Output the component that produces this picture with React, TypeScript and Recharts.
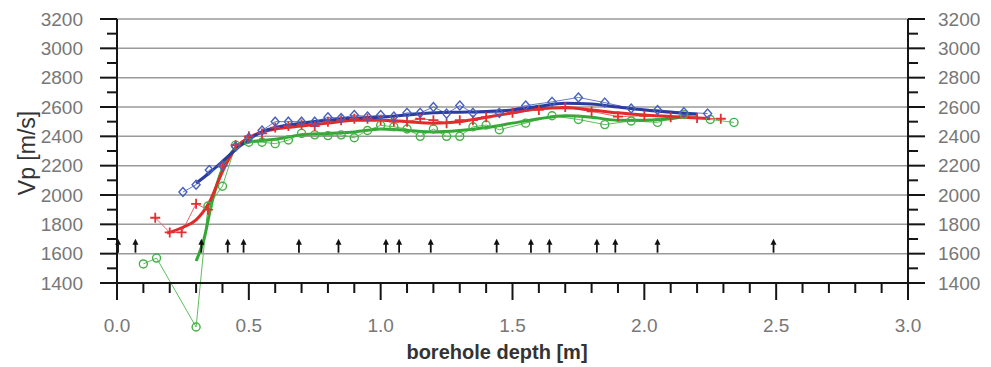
import React from 'react'
import { ComposedChart, Line, Scatter, XAxis, YAxis, CartesianGrid } from 'recharts'

// depth [m], Vp [m/s]
const BLUE_POINTS = [
  [0.25, 2020], [0.3, 2070], [0.35, 2170], [0.4, 2200], [0.45, 2330], [0.5, 2390],
  [0.55, 2440], [0.6, 2500], [0.65, 2500], [0.7, 2500], [0.75, 2500], [0.8, 2530],
  [0.85, 2525], [0.9, 2545], [0.95, 2535], [1.0, 2545], [1.05, 2535], [1.1, 2560],
  [1.15, 2560], [1.2, 2600], [1.25, 2555], [1.3, 2610], [1.35, 2560], [1.45, 2560],
  [1.55, 2610], [1.65, 2635], [1.75, 2665], [1.85, 2630], [1.95, 2590], [2.05, 2580],
  [2.15, 2565], [2.24, 2555],
]
const RED_POINTS = [
  [0.145, 1845], [0.2, 1745], [0.245, 1745], [0.3, 1940], [0.345, 1900], [0.4, 2200],
  [0.45, 2340], [0.5, 2400], [0.55, 2420], [0.6, 2460], [0.65, 2470], [0.7, 2480],
  [0.75, 2470], [0.8, 2500], [0.85, 2510], [0.9, 2520], [0.95, 2520], [1.0, 2510],
  [1.05, 2500], [1.1, 2500], [1.15, 2520], [1.2, 2510], [1.25, 2490], [1.3, 2510],
  [1.35, 2510], [1.4, 2530], [1.5, 2560], [1.6, 2580], [1.7, 2600], [1.8, 2570],
  [1.9, 2535], [2.0, 2540], [2.1, 2530], [2.2, 2525], [2.29, 2520],
]
const GREEN_POINTS = [
  [0.1, 1530], [0.15, 1570], [0.3, 1100], [0.345, 1925], [0.4, 2060], [0.45, 2340],
  [0.5, 2360], [0.55, 2360], [0.6, 2350], [0.65, 2375], [0.7, 2420], [0.75, 2410],
  [0.8, 2405], [0.85, 2410], [0.9, 2390], [0.95, 2440], [1.0, 2475], [1.05, 2465],
  [1.1, 2450], [1.15, 2400], [1.2, 2450], [1.25, 2400], [1.3, 2400], [1.35, 2465],
  [1.4, 2477], [1.45, 2445], [1.55, 2490], [1.65, 2540], [1.75, 2515], [1.85, 2480],
  [1.95, 2505], [2.05, 2495], [2.15, 2550], [2.25, 2515], [2.34, 2495],
]

// smoothed trend curves
const BLUE_TREND = [
  [0.3, 2080], [0.35, 2150], [0.4, 2230], [0.45, 2310], [0.5, 2380], [0.55, 2430],
  [0.6, 2460], [0.7, 2490], [0.8, 2510], [0.9, 2525], [1.0, 2530], [1.1, 2545],
  [1.2, 2560], [1.3, 2565], [1.4, 2570], [1.5, 2580], [1.6, 2605], [1.7, 2625],
  [1.8, 2620], [1.9, 2600], [2.0, 2580], [2.1, 2565], [2.2, 2550],
]
const RED_TREND = [
  [0.19, 1740], [0.25, 1780], [0.3, 1830], [0.35, 1950], [0.4, 2160], [0.45, 2320],
  [0.5, 2390], [0.55, 2430], [0.6, 2450], [0.7, 2470], [0.8, 2490], [0.9, 2510],
  [1.0, 2510], [1.1, 2500], [1.2, 2490], [1.3, 2500], [1.4, 2530], [1.5, 2560],
  [1.6, 2590], [1.7, 2595], [1.8, 2580], [1.9, 2560], [2.0, 2545], [2.1, 2535],
  [2.2, 2525], [2.25, 2520],
]
const GREEN_TREND = [
  [0.3, 1550], [0.33, 1700], [0.36, 1950], [0.4, 2180], [0.45, 2320], [0.5, 2360],
  [0.6, 2380], [0.7, 2410], [0.8, 2420], [0.9, 2430], [1.0, 2450], [1.1, 2440],
  [1.2, 2430], [1.3, 2440], [1.4, 2460], [1.5, 2490], [1.6, 2520], [1.7, 2540],
  [1.8, 2530], [1.9, 2510], [2.0, 2510], [2.1, 2520], [2.17, 2540],
]

// positions of the arrows along the borehole
const ARROW_DEPTHS = [0.004, 0.07, 0.32, 0.42, 0.48, 0.69, 0.84, 1.02, 1.07, 1.19, 1.44, 1.57, 1.64, 1.82, 1.89, 2.05, 2.49]
const ARROW_VP = 1600

const X_TICKS = [
  0, 0.1, 0.2, 0.3, 0.4, 0.5, 0.6, 0.7, 0.8, 0.9, 1.0, 1.1, 1.2, 1.3, 1.4, 1.5,
  1.6, 1.7, 1.8, 1.9, 2.0, 2.1, 2.2, 2.3, 2.4, 2.5, 2.6, 2.7, 2.8, 2.9, 3.0,
]
const Y_TICKS = [1400, 1500, 1600, 1700, 1800, 1900, 2000, 2100, 2200, 2300, 2400, 2500, 2600, 2700, 2800, 2900, 3000, 3100, 3200]
const Y_GRID = [1400, 1600, 1800, 2000, 2200, 2400, 2600, 2800, 3000, 3200]

const toXY = (pts: number[][]) => pts.map(([x, y]) => ({ x, y }))

const FONT = '"Liberation Sans", Arial, sans-serif'
const LABEL = '#777'
const AXIS = '#151515'

function XTick({ x, y, payload }: any) {
  const v = payload.value as number
  const major = Math.abs(v * 2 - Math.round(v * 2)) < 1e-6
  return (
    <g>
      <line x1={x} x2={x} y1={y} y2={y + (major ? 17 : 10)} stroke={AXIS} strokeWidth={2} />
      {major && (
        <text x={x} y={y + 42} textAnchor="middle" dominantBaseline="central" fill={LABEL} fontSize={19} fontFamily={FONT}>
          {v.toFixed(1)}
        </text>
      )}
    </g>
  )
}

function YTick({ x, y, payload, side }: any) {
  const v = payload.value as number
  const major = v % 200 === 0
  const dir = side === 'left' ? -1 : 1
  return (
    <g>
      <line x1={x} x2={x + dir * (major ? 17 : 10)} y1={y} y2={y} stroke={AXIS} strokeWidth={2} />
      {major && (
        <text
          x={side === 'left' ? x - 34 : x + 30}
          y={y}
          textAnchor={side === 'left' ? 'end' : 'start'}
          dominantBaseline="central"
          fill={LABEL}
          fontSize={19}
          fontFamily={FONT}
        >
          {v}
        </text>
      )}
    </g>
  )
}

const diamond = (color: string) => (p: any) => {
  const { cx, cy, index } = p
  if (cx == null || cy == null) return <g key={index} />
  return <path key={index} d={`M${cx},${cy - 4.5}L${cx + 4},${cy}L${cx},${cy + 4.5}L${cx - 4},${cy}Z`} fill="none" stroke={color} strokeWidth={1.4} />
}
const plus = (color: string) => (p: any) => {
  const { cx, cy, index } = p
  if (cx == null || cy == null) return <g key={index} />
  return <path key={index} d={`M${cx - 5},${cy}H${cx + 5}M${cx},${cy - 5}V${cy + 5}`} stroke={color} strokeWidth={1.8} />
}
const circle = (color: string) => (p: any) => {
  const { cx, cy, index } = p
  if (cx == null || cy == null) return <g key={index} />
  return <circle key={index} cx={cx} cy={cy} r={4} fill="none" stroke={color} strokeWidth={1.4} />
}

function Arrow(p: any) {
  const { cx, cy } = p
  return (
    <g>
      <line x1={cx} x2={cx} y1={cy - 1} y2={cy - 11} stroke="#111" strokeWidth={1.8} />
      <path d={`M${cx - 3},${cy - 9}L${cx},${cy - 15}L${cx + 3},${cy - 9}Z`} fill="#111" />
    </g>
  )
}

export default function App() {
  return (
    <div style={{ position: 'absolute', left: 0, top: 0, width: 991, height: 367, background: '#fff' }}>
      <style>{`.no-clip, .no-clip *, .recharts-line-dots, .recharts-line-dots * { clip-path: none !important; }`}</style>
      <ComposedChart width={991} height={367} margin={{ top: 19, right: 0, bottom: 0, left: 0 }}>
        <CartesianGrid horizontal vertical={false} horizontalValues={Y_GRID} stroke="#9a9a9a" strokeWidth={1.5} yAxisId="left" />
        <XAxis
          type="number"
          dataKey="x"
          domain={[0, 3]}
          ticks={X_TICKS}
          interval={0}
          height={84}
          tickSize={0}
          tickMargin={0}
          tickLine={false}
          axisLine={{ stroke: AXIS, strokeWidth: 2 }}
          tick={<XTick />}
          allowDataOverflow
        />
        <YAxis
          yAxisId="left"
          type="number"
          dataKey="y"
          domain={[1400, 3200]}
          ticks={Y_TICKS}
          interval={0}
          width={117}
          tickSize={0}
          tickMargin={0}
          tickLine={false}
          axisLine={{ stroke: AXIS, strokeWidth: 2 }}
          tick={<YTick side="left" />}
          allowDataOverflow
        />
        <YAxis
          yAxisId="right"
          orientation="right"
          type="number"
          domain={[1400, 3200]}
          ticks={Y_TICKS}
          interval={0}
          width={83}
          tickSize={0}
          tickMargin={0}
          tickLine={false}
          axisLine={{ stroke: AXIS, strokeWidth: 2 }}
          tick={<YTick side="right" />}
          allowDataOverflow
        />

        <Line yAxisId="left" className="no-clip" data={toXY(GREEN_POINTS)} dataKey="y" type="linear" stroke="#5cbf5c" strokeWidth={1} dot={circle('#45b045')} isAnimationActive={false} />
        <Line yAxisId="left" data={toXY(RED_POINTS)} dataKey="y" type="linear" stroke="#e86060" strokeWidth={1} dot={plus('#e33030')} isAnimationActive={false} />
        <Line yAxisId="left" data={toXY(BLUE_POINTS)} dataKey="y" type="linear" stroke="#6478c8" strokeWidth={1} dot={diamond('#4660c0')} isAnimationActive={false} />

        <Line yAxisId="left" data={toXY(GREEN_TREND)} dataKey="y" type="monotone" stroke="#34a834" strokeWidth={3} dot={false} isAnimationActive={false} />
        <Line yAxisId="left" data={toXY(RED_TREND)} dataKey="y" type="monotone" stroke="#e32a2a" strokeWidth={3} dot={false} isAnimationActive={false} />
        <Line yAxisId="left" data={toXY(BLUE_TREND)} dataKey="y" type="monotone" stroke="#2b3c9e" strokeWidth={3} dot={false} isAnimationActive={false} />

        <Scatter
          yAxisId="left"
          className="no-clip"
          data={ARROW_DEPTHS.map((x) => ({ x, y: ARROW_VP }))}
          dataKey="y"
          shape={(p: any) => <Arrow {...p} />}
          isAnimationActive={false}
        />

        <text x={27} y={153} transform="rotate(-90 27 153)" textAnchor="middle" dominantBaseline="central" fill="#333" fontSize={23} fontFamily={FONT}>
          Vp [m/s]
        </text>
        <text x={497} y={352} textAnchor="middle" dominantBaseline="central" fill="#333" fontSize={20} fontWeight="bold" fontFamily={FONT}>
          borehole depth [m]
        </text>
      </ComposedChart>
    </div>
  )
}
